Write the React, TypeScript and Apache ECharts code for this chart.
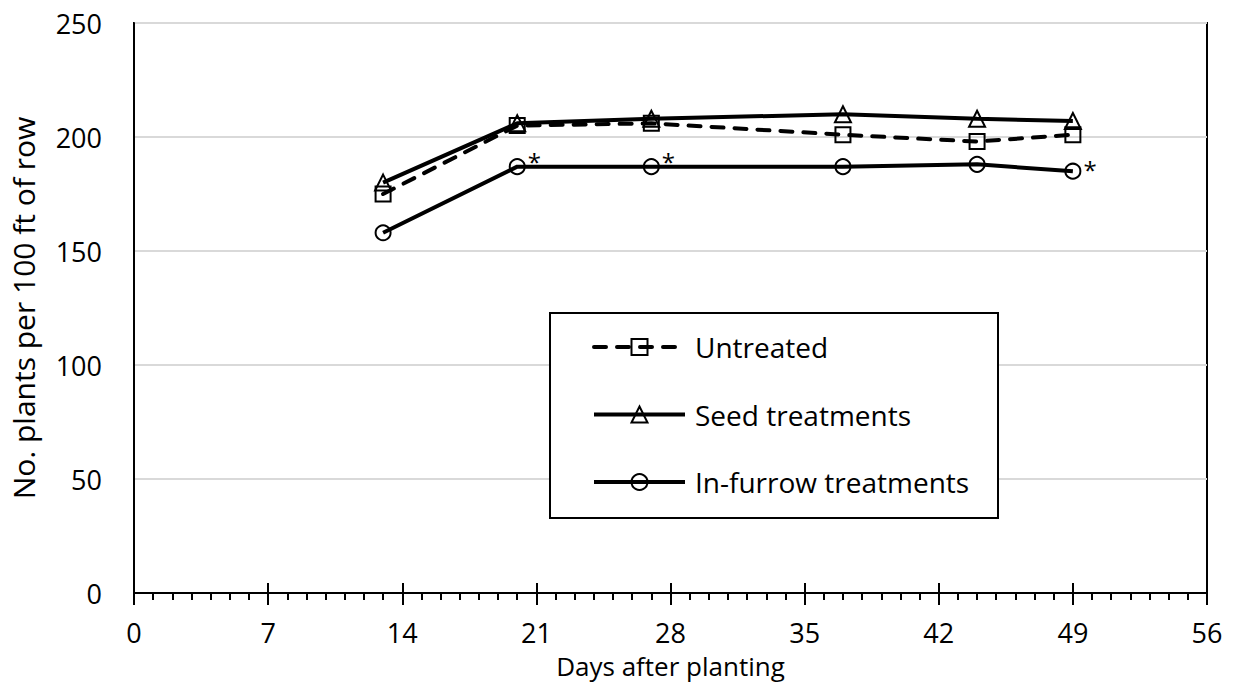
import React, { useEffect, useRef } from "react";
import * as echarts from "echarts";

const days = [13, 20, 27, 37, 44, 49];
const untreated = [175, 205, 206, 201, 198, 201];
const seedTreatments = [180, 206, 208, 210, 208, 207];
const inFurrowTreatments = [158, 187, 187, 187, 188, 185];
const inFurrowSignificant = [false, true, true, false, false, true];
const seriesNames = ["Untreated", "Seed treatments", "In-furrow treatments"];
const xTicks = { min: 0, max: 56, interval: 7 };
const yTicks = { min: 0, max: 250, interval: 50 };

const FONT = "Open Sans";

export default function App() {
  const ref = useRef<HTMLDivElement>(null);
  useEffect(() => {
    if (!ref.current) return;
    const chart = echarts.init(ref.current, undefined, { renderer: "svg" });
    const pairs = (vals: number[]) => days.map((d, i) => [d, vals[i]]);
    const baseSeries = (name: string, symbol: string, dashed: boolean, data: any[]) => ({
      name,
      type: "line",
      xAxisIndex: 0,
      data,
      symbol,
      symbolSize: symbol === "triangle" ? 16 : 15,
      showSymbol: true,
      lineStyle: {
        color: "#000",
        width: 4,
        type: dashed ? [12, 11] : "solid",
        cap: dashed ? "round" : "butt",
      },
      itemStyle: { color: "rgba(0,0,0,0)", borderColor: "#000", borderWidth: 2 },
      emphasis: { disabled: true },
    });
    const furrowData = days.map((d, i) =>
      inFurrowSignificant[i]
        ? {
            value: [d, inFurrowTreatments[i]],
            label: {
              show: true,
              formatter: "*",
              position: "right",
              distance: 2,
              offset: i === days.length - 1 ? [0, -2] : [0, -5],
              fontFamily: FONT,
              fontSize: 24,
              color: "#000",
            },
          }
        : [d, inFurrowTreatments[i]]
    );
    const axisFont = { fontFamily: FONT, fontSize: 27, color: "#000" };
    chart.setOption({
      animation: false,
      grid: {
        left: 134,
        right: 26,
        top: 23,
        bottom: 97,
        show: true,
        borderColor: "#000",
        borderWidth: 2,
        backgroundColor: "transparent",
      },
      xAxis: [
        {
          type: "value",
          ...xTicks,
          name: "Days after planting",
          nameLocation: "middle",
          nameGap: 58,
          nameTextStyle: { ...axisFont, fontSize: 26, lineHeight: 28 },
          axisLine: { show: true, lineStyle: { color: "#000", width: 2 } },
          axisTick: { show: true, inside: false, length: 12, lineStyle: { color: "#000", width: 2 } },
          minorTick: { show: true, splitNumber: 7, length: 7, lineStyle: { color: "#000", width: 2 } },
          splitLine: { show: false },
          axisLabel: { ...axisFont, lineHeight: 30, margin: 24 },
        },
        {
          type: "value",
          ...xTicks,
          position: "bottom",
          axisLine: { show: true, onZero: false, lineStyle: { color: "#000", width: 2 } },
          axisTick: { show: true, inside: true, length: 10, lineStyle: { color: "#000", width: 2 } },
          axisLabel: { show: false },
          splitLine: { show: false },
        },
      ],
      yAxis: {
        type: "value",
        ...yTicks,
        name: "No. plants per 100 ft of row",
        nameLocation: "middle",
        nameGap: 96,
        nameTextStyle: { ...axisFont, fontSize: 30 },
        axisLine: { show: true, lineStyle: { color: "#000", width: 2 } },
        axisTick: { show: false },
        splitLine: { show: true, lineStyle: { color: "#d9d9d9", width: 2 } },
        axisLabel: { ...axisFont, margin: 32 },
      },
      legend: {
        data: seriesNames,
        orient: "vertical",
        left: 592,
        top: 333,
        padding: 0,
        itemWidth: 91,
        itemHeight: 20,
        itemGap: 39.5,
        selectedMode: false,
        lineStyle: { width: 4 },
        textStyle: { fontFamily: FONT, fontSize: 28, color: "#000", lineHeight: 24, padding: [0, 0, 0, 5] },
      },
      graphic: [
        {
          type: "rect",
          left: 549,
          top: 312,
          z: 3,
          shape: { width: 448, height: 205 },
          style: { fill: "#fff", stroke: "#000", lineWidth: 2 },
        },
      ],
      series: [
        baseSeries(seriesNames[2], "circle", false, furrowData),
        baseSeries(seriesNames[1], "triangle", false, pairs(seedTreatments)),
        baseSeries(seriesNames[0], "rect", true, pairs(untreated)),
      ],
    });
    return () => chart.dispose();
  }, []);
  return <div ref={ref} style={{ width: 1233, height: 690, margin: -8 }} />;
}
